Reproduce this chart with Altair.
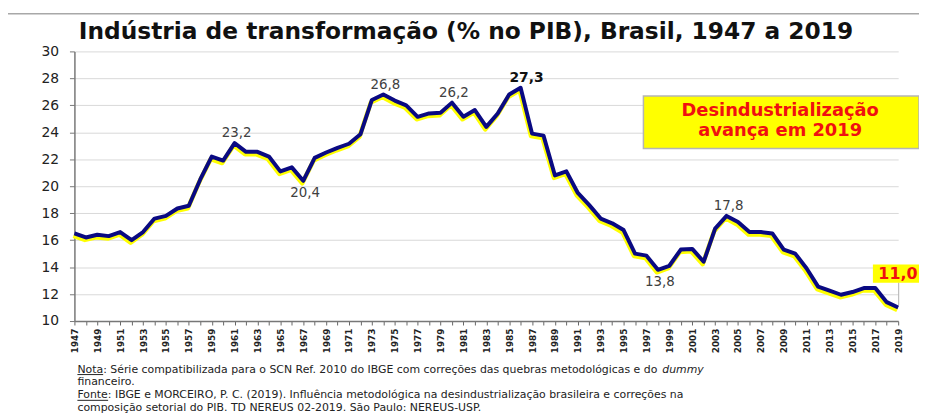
import altair as alt
import pandas as pd

# ---------------- data ----------------
years = list(range(1947, 2020))
share = [
    16.5, 16.2, 16.4, 16.3, 16.6, 16.0, 16.6, 17.6, 17.8, 18.35,   # 1947-1956
    18.55, 20.5, 22.2, 21.9, 23.2, 22.55, 22.55, 22.2, 21.1, 21.4,  # 1957-1966
    20.4, 22.1, 22.5, 22.85, 23.15, 23.85, 26.4, 26.8, 26.35, 26.0, # 1967-1976
    25.15, 25.4, 25.45, 26.2, 25.15, 25.65, 24.4, 25.4, 26.8, 27.3, # 1977-1986
    23.9, 23.75, 20.8, 21.1, 19.5, 18.6, 17.6, 17.25, 16.75, 15.0,  # 1987-1996
    14.85, 13.8, 14.1, 15.3, 15.35, 14.4, 16.85, 17.8, 17.35, 16.6, # 1997-2006
    16.6, 16.5, 15.3, 15.0, 13.9, 12.55, 12.25, 11.95, 12.15, 12.45,# 2007-2016
    12.45, 11.4, 11.0,                                              # 2017-2019
]

above_years = [1961, 1974, 1980, 2004]
above_texts = ["23,2", "26,8", "26,2", "17,8"]
below_years = [1967, 1998]
below_texts = ["20,4", "13,8"]
peak_year = [1986]
peak_text = ["27,3"]

y_ticks = list(range(10, 31, 2))

title_text = "Indústria de transformação (% no PIB), Brasil, 1947 a 2019"
box_lines = ["Desindustrialização", "avança em 2019"]
last_text = "11,0"
note_1a = "Nota: Série compatibilizada para o SCN Ref. 2010 do IBGE com correções das quebras metodológicas e do"
note_1b = "dummy"
note_2 = "financeiro."
note_3 = "Fonte: IBGE e MORCEIRO, P. C. (2019). Influência metodológica na desindustrialização brasileira e correções na"
note_4 = "composição setorial do PIB. TD NEREUS 02-2019. São Paulo: NEREUS-USP."

# ---------------- tables ----------------
df = pd.DataFrame({"year": years, "share": share})
val = dict(zip(years, share))
df_above = pd.DataFrame({"year": above_years, "share": [val[y] for y in above_years], "t": above_texts})
df_below = pd.DataFrame({"year": below_years, "share": [val[y] for y in below_years], "t": below_texts})
df_peak = pd.DataFrame({"year": peak_year, "share": [val[y] for y in peak_year], "t": peak_text})
one = pd.DataFrame({"k": [0]})

FONT = "DejaVu Sans"

x_enc = alt.X(
    "year:Q",
    scale=alt.Scale(domain=[1947, 2019], nice=False, zero=False),
    axis=alt.Axis(
        values=years, format="d",
        labelExpr="datum.value % 2 == 1 ? datum.label : ''",
        labelAngle=270, labelFont=FONT, labelFontSize=9, labelFontWeight="bold",
        labelColor="#222222", labelPadding=3, labelOverlap=False, labelFlush=False,
        tickSize=4, tickColor="#666666", tickWidth=1,
        domainColor="#777777", domainWidth=1.5, grid=False, title=None,
    ),
)
y_enc = alt.Y(
    "share:Q",
    scale=alt.Scale(domain=[10, 30], nice=False, zero=False),
    axis=alt.Axis(
        values=y_ticks, labelFont=FONT, labelFontSize=14, labelColor="#222222",
        labelPadding=11, tickSize=5, tickColor="#777777", tickWidth=1,
        domainColor="#777777", domainWidth=1.5,
        grid=True, gridColor="#d9d9d9", gridWidth=1, title=None,
    ),
)

base = alt.Chart(df)

shadow = base.mark_line(color="#ffff00", strokeWidth=4.5, yOffset=2.5, xOffset=-1,
                        strokeJoin="round").encode(x=x_enc, y=y_enc)
line = base.mark_line(color="#0a0a82", strokeWidth=4, strokeJoin="round").encode(x=x_enc, y=y_enc)

lab_above = alt.Chart(df_above).mark_text(
    font=FONT, fontSize=13.5, color="#404040", dy=-10, dx=2, baseline="middle"
).encode(x=x_enc, y=y_enc, text="t:N")
lab_below = alt.Chart(df_below).mark_text(
    font=FONT, fontSize=13.5, color="#404040", dy=12, dx=2, baseline="middle"
).encode(x=x_enc, y=y_enc, text="t:N")
lab_peak = alt.Chart(df_peak).mark_text(
    font=FONT, fontSize=14, fontWeight="bold", color="#111111", dy=-10, dx=6, baseline="middle"
).encode(x=x_enc, y=y_enc, text="t:N")

oc = alt.Chart(one)

frame = oc.mark_rect(fill="transparent", stroke="#a8a8a8", strokeWidth=1.5).encode(
    x=alt.value(-71), x2=alt.value(870), y=alt.value(-38), y2=alt.value(380))

title = oc.mark_text(font=FONT, fontSize=23.5, fontWeight="bold", color="#111111",
                     align="center", baseline="alphabetic").encode(
    x=alt.value(395), y=alt.value(-13), text=alt.value(title_text))

box = oc.mark_rect(fill="#ffff00", stroke="#b5b5b5", strokeWidth=1.5).encode(
    x=alt.value(574), x2=alt.value(852), y=alt.value(45), y2=alt.value(98))
box_t1 = oc.mark_text(font=FONT, fontSize=18, fontWeight="bold", color="#f01010",
                      align="center", baseline="alphabetic").encode(
    x=alt.value(712), y=alt.value(65.5), text=alt.value(box_lines[0]))
box_t2 = oc.mark_text(font=FONT, fontSize=18, fontWeight="bold", color="#f01010",
                      align="center", baseline="alphabetic").encode(
    x=alt.value(712), y=alt.value(85.5), text=alt.value(box_lines[1]))

last_line = oc.mark_rule(color="#b0b0b0", strokeWidth=1).encode(
    x=alt.value(831.5), y=alt.value(233), y2=alt.value(256))
last_box = oc.mark_rect(fill="#ffff00").encode(
    x=alt.value(805.5), x2=alt.value(870), y=alt.value(215), y2=alt.value(233.5))
last_t = oc.mark_text(font=FONT, fontSize=16, fontWeight="bold", color="#f01010",
                      align="left", baseline="alphabetic").encode(
    x=alt.value(811), y=alt.value(230), text=alt.value(last_text))

NOTE_SIZE = 11

def note(txt, x, y, **kw):
    return oc.mark_text(font=FONT, fontSize=NOTE_SIZE, color="#222222", align="left",
                        baseline="alphabetic", **kw).encode(
        x=alt.value(x), y=alt.value(y), text=alt.value(txt))

n1a = note(note_1a, 3, 324)
n1b = note(note_1b, 593, 324, fontStyle="italic")
n2 = note(note_2, 3, 336.5)
n3 = note(note_3, 3, 350)
n4 = note(note_4, 3, 362.5)
u1 = oc.mark_rule(color="#222222", strokeWidth=1).encode(
    x=alt.value(3), x2=alt.value(29), y=alt.value(326))
u2 = oc.mark_rule(color="#222222", strokeWidth=1).encode(
    x=alt.value(3), x2=alt.value(34), y=alt.value(352))

chart = alt.layer(
    frame, shadow, line, lab_above, lab_below, lab_peak, title,
    box, box_t1, box_t2, last_line, last_box, last_t,
    n1a, n1b, n2, n3, n4, u1, u2,
).properties(
    width=831, height=272,
    autosize=alt.AutoSizeParams(type="none"),
    padding={"left": 67, "top": 42, "right": 21, "bottom": 93},
    background="white",
).configure_view(stroke=None)

chart.save("out.html", embed_options={"renderer": "svg", "actions": False})
